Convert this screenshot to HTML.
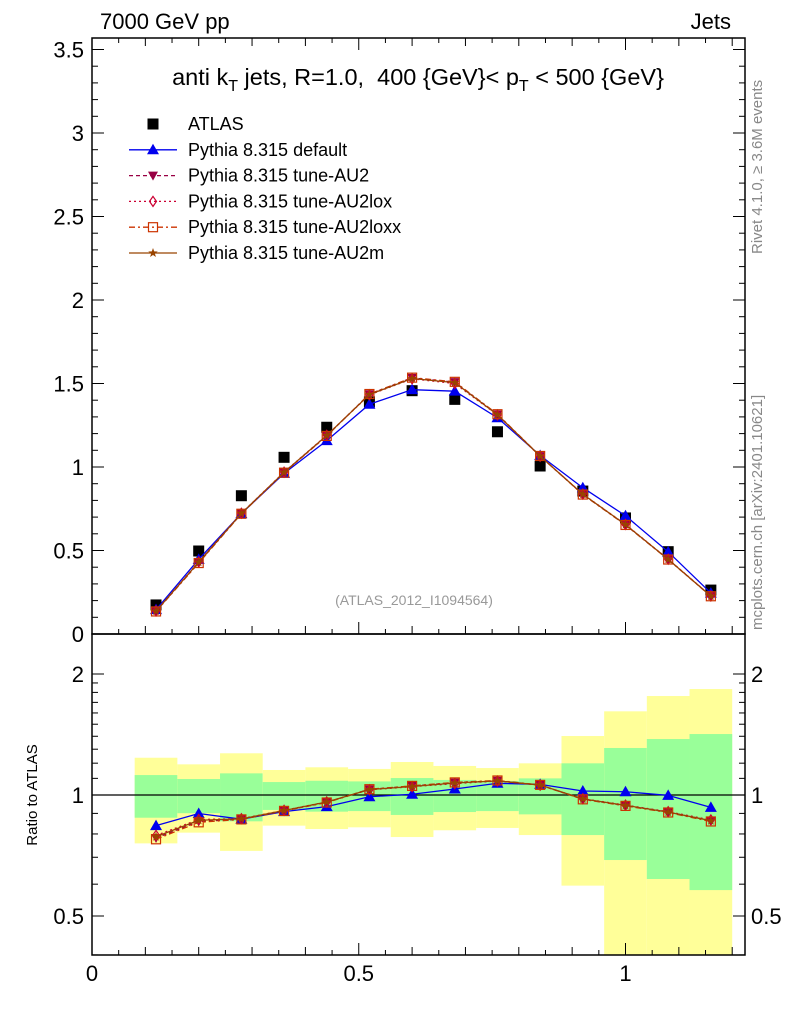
<!DOCTYPE html>
<html><head><meta charset="utf-8"><style>
body{margin:0;background:#fff;}
svg{display:block;font-family:"Liberation Sans",sans-serif;}
</style></head><body>
<svg id="c" width="786" height="1024" viewBox="0 0 786 1024" xmlns="http://www.w3.org/2000/svg">
<g id="bands"></g>
<g id="axes"></g>
<g id="series"></g>
<text x="100" y="29" font-size="22">7000 GeV pp</text>
<text x="731" y="29" font-size="22" text-anchor="end">Jets</text>
<text x="418" y="85" font-size="23.5" text-anchor="middle">anti k<tspan font-size="16" dy="6">T</tspan><tspan dy="-6"> jets, R=1.0, &#160;400 {GeV}&lt; p</tspan><tspan font-size="16" dy="6">T</tspan><tspan dy="-6"> &lt; 500 {GeV}</tspan></text>
<text x="414" y="605" font-size="14" fill="#999" text-anchor="middle">(ATLAS_2012_I1094564)</text>
<text transform="translate(762,254) rotate(-90)" font-size="15" fill="#888">Rivet 4.1.0, ≥ 3.6M events</text>
<text transform="translate(762,630) rotate(-90)" font-size="15" fill="#888">mcplots.cern.ch [arXiv:2401.10621]</text>
<text transform="translate(37,795) rotate(-90)" font-size="15" text-anchor="middle">Ratio to ATLAS</text>
<g id="legend"></g>
</svg>
<script>
const binEdges=[0.08,0.16,0.24,0.32,0.40,0.48,0.56,0.64,0.72,0.80,0.88,0.96,1.04,1.12,1.20];
const xCenters=[0.12,0.20,0.28,0.36,0.44,0.52,0.60,0.68,0.76,0.84,0.92,1.00,1.08,1.16];
const atlas=[0.174,0.497,0.828,1.058,1.238,1.39,1.457,1.405,1.211,1.006,0.856,0.695,0.493,0.263];
const pyDefault=[0.146,0.447,0.721,0.962,1.158,1.376,1.463,1.454,1.295,1.069,0.876,0.708,0.492,0.245];
const pyAU2=[0.136,0.427,0.721,0.967,1.187,1.436,1.534,1.508,1.314,1.065,0.836,0.654,0.447,0.227];
const pyAU2lox=[0.138,0.432,0.723,0.969,1.19,1.432,1.528,1.5,1.312,1.064,0.838,0.656,0.448,0.228];
const pyAU2loxx=[0.135,0.425,0.72,0.966,1.186,1.437,1.535,1.51,1.316,1.066,0.835,0.653,0.446,0.226];
const pyAU2m=[0.137,0.43,0.722,0.968,1.189,1.434,1.53,1.505,1.313,1.065,0.837,0.655,0.447,0.227];
const yellowHi=[1.238,1.192,1.27,1.154,1.172,1.161,1.208,1.181,1.167,1.199,1.402,1.615,1.763,1.835];
const greenHi=[1.121,1.096,1.132,1.077,1.085,1.081,1.102,1.09,1.084,1.1,1.199,1.309,1.378,1.418];
const greenLo=[0.878,0.901,0.86,0.918,0.909,0.912,0.892,0.907,0.912,0.895,0.795,0.689,0.618,0.58];
const yellowLo=[0.758,0.806,0.726,0.839,0.823,0.831,0.786,0.817,0.828,0.795,0.595,0.3,0.3,0.3];
const mainTicks=["0","0.5","1","1.5","2","2.5","3","3.5"];
const ratioTicks=["0.5","1","2"];
const xTicks=["0","0.5","1"];

const NS="http://www.w3.org/2000/svg";
const L=92,R=745,T=38,M=634,B=955;
const X=v=>L+v*533.5;
const Y=v=>634-v*167;
const YR=v=>795-Math.log2(v)*121;
function mk(tag,attrs,parent){const e=document.createElementNS(NS,tag);for(const k in attrs)e.setAttribute(k,attrs[k]);parent.appendChild(e);return e;}
const bands=document.getElementById('bands'),axes=document.getElementById('axes'),ser=document.getElementById('series'),leg=document.getElementById('legend');
const clampR=v=>Math.min(Math.max(v,0.4),2.5);
for(let i=0;i<xCenters.length;i++){
  const x0=X(binEdges[i]),x1=X(binEdges[i+1]);
  const y=mk('rect',{x:x0,y:YR(clampR(yellowHi[i])),width:x1-x0,height:YR(clampR(yellowLo[i]))-YR(clampR(yellowHi[i])),fill:'#ffff99'},bands);
  
  
  const g=mk('rect',{x:x0,y:YR(greenHi[i]),width:x1-x0,height:YR(greenLo[i])-YR(greenHi[i]),fill:'#99ff99'},bands);
  
  
}
mk('rect',{x:L,y:T,width:R-L,height:M-T,fill:'none',stroke:'#000','stroke-width':1.5},axes);
mk('rect',{x:L,y:M,width:R-L,height:B-M,fill:'none',stroke:'#000','stroke-width':1.5},axes);
mk('line',{x1:L,x2:R,y1:YR(1),y2:YR(1),stroke:'#000','stroke-width':1.2},axes);
for(let k=0;k<=35;k++){const v=k/10,y=Y(v);if(y<T)continue;const len=k%5==0?12:6;
  mk('line',{x1:L,x2:L+len,y1:y,y2:y,stroke:'#000'},axes);mk('line',{x1:R,x2:R-len,y1:y,y2:y,stroke:'#000'},axes);}
mainTicks.forEach(t=>{const e=mk('text',{x:L-8,y:Y(+t)+8,'font-size':22,'text-anchor':'end'},axes);e.textContent=t;
  
  });
[0.4,0.5,0.6,0.7,0.8,0.9,1,1.1,1.2,1.3,1.4,1.5,1.6,1.7,1.8,1.9,2].forEach(v=>{const y=YR(v);const len=(v==0.5||v==1||v==2)?12:6;
  mk('line',{x1:L,x2:L+len,y1:y,y2:y,stroke:'#000'},axes);mk('line',{x1:R,x2:R-len,y1:y,y2:y,stroke:'#000'},axes);});
ratioTicks.forEach(t=>{const e=mk('text',{x:L-8,y:YR(+t)+8,'font-size':22,'text-anchor':'end'},axes);e.textContent=t;
  
  
  const e2=mk('text',{x:R+6,y:YR(+t)+8,'font-size':22},axes);e2.textContent=t;
  
  });
for(let k=0;k<=24;k++){const v=k*0.05,x=X(v);if(x>R)continue;const len=k%10==0?12:(k%2==0?8:5);
  mk('line',{x1:x,x2:x,y1:M,y2:M-len,stroke:'#000'},axes);mk('line',{x1:x,x2:x,y1:B,y2:B-len,stroke:'#000'},axes);
  mk('line',{x1:x,x2:x,y1:T,y2:T+len,stroke:'#000'},axes);}
xTicks.forEach(t=>{const e=mk('text',{x:X(+t),y:981,'font-size':22,'text-anchor':'middle'},axes);e.textContent=t;
  
  });

function marker(type,x,y,col,p){
  if(type=='sq')return mk('rect',{x:x-5.5,y:y-5.5,width:11,height:11,fill:col},p);
  if(type=='tri')return mk('polygon',{points:`${x},${y-6} ${x-6},${y+4.5} ${x+6},${y+4.5}`,fill:col},p);
  if(type=='itri')return mk('polygon',{points:`${x},${y+5} ${x-5},${y-4} ${x+5},${y-4}`,fill:col},p);
  if(type=='dia')return mk('polygon',{points:`${x},${y-5} ${x-3.5},${y} ${x},${y+5} ${x+3.5},${y}`,fill:'none',stroke:col,'stroke-width':1.2},p);
  if(type=='osq')return mk('rect',{x:x-4.5,y:y-4.5,width:9,height:9,fill:'none',stroke:col,'stroke-width':1.2},p);
  if(type=='star'){let pts=[];for(let i=0;i<10;i++){const a=-Math.PI/2+i*Math.PI/5,r=i%2?2:5;pts.push((x+r*Math.cos(a))+','+(y+r*Math.sin(a)));}
    return mk('polygon',{points:pts.join(' '),fill:col},p);}
}
const seriesDefs=[
 {name:'ATLAS',vals:atlas,col:'#000',m:'sq',dash:null},
 {name:'Pythia 8.315 default',vals:pyDefault,col:'#0000ee',m:'tri',dash:''},
 {name:'Pythia 8.315 tune-AU2',vals:pyAU2,col:'#990044',m:'itri',dash:'4,3'},
 {name:'Pythia 8.315 tune-AU2lox',vals:pyAU2lox,col:'#cc0033',m:'dia',dash:'2,3'},
 {name:'Pythia 8.315 tune-AU2loxx',vals:pyAU2loxx,col:'#cc3300',m:'osq',dash:'6,3,2,3'},
 {name:'Pythia 8.315 tune-AU2m',vals:pyAU2m,col:'#994400',m:'star',dash:''}
];
seriesDefs.forEach((s,si)=>{
  const g=mk('g',{},ser);
  
  
  if(s.dash!==null){
    const pm=xCenters.map((x,i)=>X(x)+','+Y(s.vals[i])).join(' ');
    mk('polyline',{points:pm,fill:'none',stroke:s.col,'stroke-width':1.3,'stroke-dasharray':s.dash},g);
    const pr=xCenters.map((x,i)=>X(x)+','+YR(s.vals[i]/atlas[i])).join(' ');
    mk('polyline',{points:pr,fill:'none',stroke:s.col,'stroke-width':1.3,'stroke-dasharray':s.dash},g);
  }
  xCenters.forEach((x,i)=>{
    const e=marker(s.m,X(x),Y(s.vals[i]),s.col,g);
    
    
    if(s.dash!==null){const r=marker(s.m,X(x),YR(s.vals[i]/atlas[i]),s.col,g);
      
      }
  });
  const ly=124+si*25.8;
  const le=mk('g',{},leg);
  
  
  if(s.dash!==null)mk('line',{x1:129,x2:177,y1:ly,y2:ly,stroke:s.col,'stroke-width':1.3,'stroke-dasharray':s.dash},le);
  marker(s.m,153,ly,s.col,le);
  const t=mk('text',{x:188,y:ly+6,'font-size':18},le);t.textContent=s.name;
});
</script>
</body></html>
